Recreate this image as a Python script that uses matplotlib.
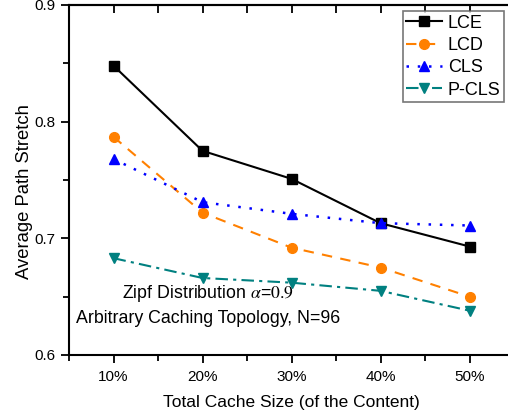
import matplotlib
matplotlib.use("Agg")
import matplotlib.pyplot as plt
from matplotlib.ticker import MultipleLocator, FixedLocator

plt.rcParams['font.family'] = ['Liberation Sans', 'DejaVu Sans']
plt.rcParams['mathtext.fontset'] = 'stix'

cache_sizes = [10, 20, 30, 40, 50]
tick_labels = ['10%', '20%', '30%', '40%', '50%']
lce = [0.848, 0.775, 0.751, 0.713, 0.693]
lcd = [0.787, 0.722, 0.692, 0.675, 0.650]
cls = [0.768, 0.731, 0.721, 0.713, 0.711]
pcls = [0.683, 0.666, 0.662, 0.655, 0.638]

fig = plt.figure(figsize=(5.08, 4.16), dpi=100)
ax = fig.add_axes([69/508, 61/416, 445/508, 350/416])

ax.plot(cache_sizes, lce, color='black', ls='-', lw=1.5, marker='s', ms=6.5, label='LCE')
ax.plot(cache_sizes, lcd, color='#ff8000', ls=(0, (5, 4)), lw=1.5, marker='o', ms=7, label='LCD')
ax.plot(cache_sizes, cls, color='#0000ff', ls=(0, (1, 3.5)), lw=1.8, marker='^', ms=7, label='CLS')
ax.plot(cache_sizes, pcls, color='#008080', ls=(0, (6, 2.5, 1.5, 2.5)), lw=1.5, marker='v', ms=7, label='P-CLS')

ax.set_xlim(5, 55)
ax.set_ylim(0.6, 0.9)
ax.xaxis.set_major_locator(FixedLocator(cache_sizes))
ax.set_xticklabels(tick_labels)
ax.xaxis.set_minor_locator(FixedLocator([5, 15, 25, 35, 45, 55]))
ax.yaxis.set_major_locator(MultipleLocator(0.1))
ax.yaxis.set_minor_locator(MultipleLocator(0.05))
ax.yaxis.set_major_formatter(matplotlib.ticker.FormatStrFormatter('%.1f'))

for s in ax.spines.values():
    s.set_linewidth(1.5)

ax.tick_params(axis='both', which='major', direction='out', length=6, width=1.3, labelsize=11)
ax.tick_params(axis='x', which='major', pad=5)
ax.tick_params(axis='both', which='minor', direction='out', length=4, width=1.3)

ax.set_xlabel('Total Cache Size (of the Content)', fontsize=12.5, labelpad=8)
ax.set_ylabel('Average Path Stretch', fontsize=13.3)
ax.yaxis.set_label_coords(-0.082, 0.466)

# top and right ticks inward
secx = ax.secondary_xaxis('top')
secx.xaxis.set_major_locator(FixedLocator(cache_sizes))
secx.xaxis.set_minor_locator(FixedLocator([15, 25, 35, 45]))
secx.tick_params(which='both', direction='in', length=6, width=1.3, labeltop=False)
secx.spines['top'].set_linewidth(1.5)
secy = ax.secondary_yaxis('right')
secy.yaxis.set_major_locator(MultipleLocator(0.1))
secy.yaxis.set_minor_locator(MultipleLocator(0.05))
secy.tick_params(which='both', direction='in', length=4, width=1.3, labelright=False)

ax.text(0.312, 0.175, 'Zipf Distribution $\\alpha$=$0.9$', transform=ax.transAxes,
        ha='center', va='center', fontsize=12.8)
ax.text(0.312, 0.105, 'Arbitrary Caching Topology, N=96', transform=ax.transAxes,
        ha='center', va='center', fontsize=12.8)

leg = ax.legend(loc='upper right', bbox_to_anchor=(0.978, 0.983), fontsize=13,
                frameon=True, fancybox=False, edgecolor='#555555', handlelength=2.0,
                handletextpad=0.3, borderpad=0.2, labelspacing=0.3, borderaxespad=0.0)
leg.get_frame().set_linewidth(1.2)

fig.savefig('out.png', dpi=100)
